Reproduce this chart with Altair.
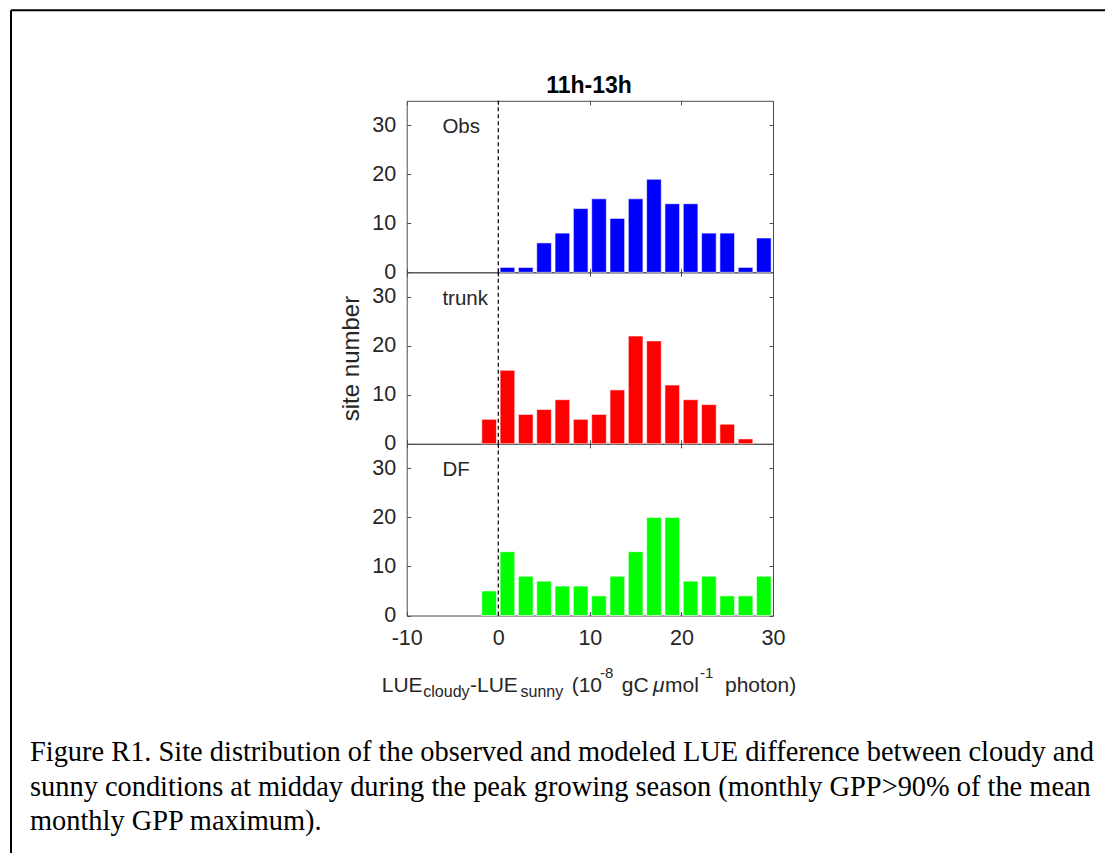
import altair as alt
import pandas as pd

# ---------------- data ----------------
bin_centers = [-1, 1, 3, 5, 7, 9, 11, 13, 15, 17, 19, 21, 23, 25, 27, 29]
obs_counts = [0, 1, 1, 6, 8, 13, 15, 11, 15, 19, 14, 14, 8, 8, 1, 7]
trunk_counts = [5, 15, 6, 7, 9, 5, 6, 11, 22, 21, 12, 9, 8, 4, 1, 0]
df_counts = [5, 13, 8, 7, 6, 6, 4, 8, 13, 20, 20, 7, 8, 4, 4, 8]
panel_names = ["Obs", "trunk", "DF"]
panel_colors = ["#0000FF", "#FF0000", "#00FF00"]
x_ticks = [-10, 0, 10, 20, 30]
y_ticks = [0, 10, 20, 30]
title_text = "11h-13h"
y_title = "site number"
caption_lines = [
    "Figure R1. Site distribution of the observed and modeled LUE difference between cloudy and",
    "sunny conditions at midday during the peak growing season (monthly GPP>90% of the mean",
    "monthly GPP maximum).",
]

# ---------------- layout ----------------
W, H = 1097, 845
X_RANGE = [398.7, 765.0]
PANEL_Y = [(264.3, 92.8), (435.8, 264.3), (607.5, 435.8)]
AX = "#4d4d4d"
TXT = "#262626"
SANS = "Liberation Sans"
SERIF = "Liberation Serif"
TICK_FS = 21.5


def axis(orient, offset, labels=False, ticks=True, domain=True, values=None, **kw):
    opts = dict(
        orient=orient, offset=offset, labels=labels, ticks=ticks, domain=domain,
        grid=False, title=None, domainColor=AX, domainWidth=1, tickColor=AX,
        tickWidth=1, tickSize=4 if ticks else 0, labelColor=TXT, labelFont=SANS,
        labelFontSize=TICK_FS, values=values, labelFlush=False, labelOverlap=False,
        labelExpr="'' + datum.value",
    )
    opts.update(kw)
    return alt.Axis(**opts)


layers = []
for i, (name, color, counts) in enumerate(zip(panel_names, panel_colors,
                                              [obs_counts, trunk_counts, df_counts])):
    yb, yt = PANEL_Y[i]
    xs = alt.Scale(domain=[-10, 30], range=X_RANGE, nice=False, zero=False)
    ys = alt.Scale(domain=[0, 35], range=[yb, yt], nice=False, zero=False)
    data = pd.DataFrame({"c": bin_centers, "n": counts})

    lab_kw = {}
    if i == 1:
        lab_kw = dict(title=y_title, titleFont=SANS, titleFontSize=24,
                      titleFontWeight="normal", titleColor=TXT, titleAngle=270,
                      titleAlign="center", titleBaseline="alphabetic",
                      titleX=358 - 8 - X_RANGE[0], titleY=(yb + yt) / 2)
    y_lab_axis = axis("left", -X_RANGE[0], labels=True, ticks=False, domain=False,
                      values=y_ticks, labelPadding=11, **lab_kw)

    bars = alt.Chart(data).transform_filter("datum.n > 0").transform_calculate(
        lo="datum.c - 0.8", hi="datum.c + 0.8"
    ).mark_bar(color=color, stroke="white", strokeWidth=0.6).encode(
        x=alt.X("lo:Q", scale=xs, axis=axis("top", -yb, values=x_ticks)),
        x2="hi:Q",
        y=alt.Y("n:Q", scale=ys, axis=y_lab_axis),
        y2=alt.Y2(datum=0),
    )

    rule = alt.Chart(pd.DataFrame({"v": [0]})).mark_rule(
        color="black", strokeDash=[4, 3], strokeWidth=1.2
    ).encode(
        x=alt.X(datum=0, type="quantitative", scale=xs,
                axis=axis("bottom", -(H - yt), values=x_ticks)),
        y=alt.Y(datum=0, type="quantitative", scale=ys,
                axis=axis("right", -(W - X_RANGE[0]), values=y_ticks)),
        y2=alt.Y2(datum=35),
    )

    if i == 2:
        x_lab_axis = axis("bottom", -(H - yb), labels=True, ticks=False, domain=False,
                          values=x_ticks, labelPadding=12)
    else:
        x_lab_axis = None
    label = alt.Chart(pd.DataFrame({"t": [name]})).mark_text(
        align="left", baseline="middle", font=SANS, fontSize=20.5, color=TXT
    ).encode(
        text="t:N",
        x=alt.X(datum=-6.1, type="quantitative", scale=xs, axis=x_lab_axis),
        y=alt.Y(datum=29.6, type="quantitative", scale=ys,
                axis=axis("left", -X_RANGE[1], values=y_ticks)),
    )
    layers += [bars, rule, label]


def text_layer(t, x, y, size, font=SANS, weight="normal", style="normal",
               align="left", baseline="alphabetic", color=TXT):
    return alt.Chart(pd.DataFrame({"t": [t]})).mark_text(
        align=align, baseline=baseline, font=font, fontSize=size,
        fontWeight=weight, fontStyle=style, color=color,
    ).encode(text="t:N", x=alt.value(x), y=alt.value(y))


# title
layers.append(text_layer(title_text, 589 - 8, 93.3 - 8, 23, weight="bold",
                         align="center", color="black"))

# x-axis title with sub/superscripts (page coords minus 8px margin)
MAIN_Y, SUB_Y, SUP_Y = 691.7 - 8, 697 - 8, 678 - 8
pieces = [
    ("LUE", 381.7, MAIN_Y, 21, "normal"),
    ("cloudy", 423.3, SUB_Y, 16, "normal"),
    ("-LUE", 470, MAIN_Y, 21, "normal"),
    ("sunny", 520.5, SUB_Y, 16, "normal"),
    ("(10", 571.7, MAIN_Y, 21, "normal"),
    ("-8", 600, SUP_Y, 15, "normal"),
    ("gC", 621.7, MAIN_Y, 21, "normal"),
    ("\u03bc", 653, MAIN_Y, 21, "italic"),
    ("mol", 665, MAIN_Y, 21, "normal"),
    ("-1", 700, SUP_Y, 15, "normal"),
    ("photon)", 725, MAIN_Y, 21, "normal"),
]
for t, x, y, s, st in pieces:
    layers.append(text_layer(t, x - 8, y, s, style=st))

# caption
for k, line in enumerate(caption_lines):
    layers.append(text_layer(line, 30 - 8, 761 - 8 + k * 34.5, 28.4, font=SERIF,
                             color="black"))

# frame (top and left edges visible)
layers.append(alt.Chart(pd.DataFrame({"v": [0]})).mark_rule(color="black", strokeWidth=2).encode(
    x=alt.value(3), x2=alt.value(W), y=alt.value(2.3)))
layers.append(alt.Chart(pd.DataFrame({"v": [0]})).mark_rule(color="black", strokeWidth=2).encode(
    x=alt.value(3), y=alt.value(2.3), y2=alt.value(H)))

chart = alt.layer(*layers).resolve_scale(
    x="independent", y="independent"
).properties(
    width=W, height=H, padding=0, autosize=alt.AutoSizeParams(type="none")
).configure_view(stroke=None)

chart.save("out.html", embed_options={"renderer": "svg", "actions": False})
